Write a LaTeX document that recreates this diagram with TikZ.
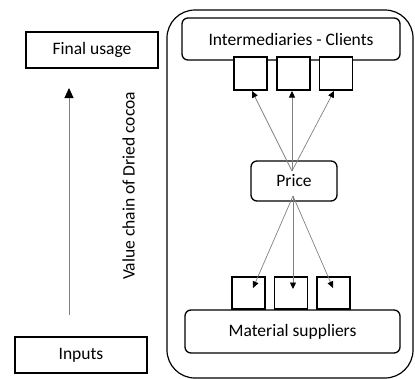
\documentclass[tikz,border=0pt]{standalone}
\usepackage{fontspec}
\setmainfont{Carlito}
\usetikzlibrary{arrows.meta}
\begin{document}
\begin{tikzpicture}[x=1bp,y=-1bp,
  lbl/.style={font=\fontsize{17.5bp}{20bp}\selectfont},
  sqbox/.style={draw=black,line width=1.3bp,fill=white,rectangle,inner sep=0pt,minimum width=33bp,minimum height=33bp},
  plainbox/.style={draw=black,line width=1.3bp,rectangle,inner sep=0pt,lbl},
  rbox/.style={draw=black,line width=1.3bp,rectangle,rounded corners=6bp,inner sep=0pt,lbl},
  link/.style={draw=gray,line width=0.7bp,-{Triangle[length=6.5bp,width=6bp,black]}},
  mainlink/.style={draw=gray,line width=0.9bp,-{Triangle[length=10bp,width=9bp,black]}}
]
\useasboundingbox (0,0) rectangle (415,379);
% outer container
\node[draw=black,line width=1.2bp,rectangle,rounded corners=28bp,inner sep=0pt,minimum width=246bp,minimum height=368bp] (outer) at (290,194) {};
% left side
\node[plainbox,minimum width=132bp,minimum height=36bp] (final) at (92,50) {Final usage};
\node[plainbox,minimum width=132bp,minimum height=36bp] (inputs) at (81,355) {Inputs};
\coordinate (arrs) at (69,315);
\coordinate (arre) at (69,88);
\draw[mainlink] (arrs) -- (arre);
\node[lbl,rotate=90] (vc) at (128.5,186) {Value chain of Dried cocoa};
% inner boxes
\node[rbox,minimum width=218bp,minimum height=42bp] (inter) at (291,39) {Intermediaries - Clients};
\node[rbox,minimum width=215bp,minimum height=43bp] (mat) at (292.5,331.5) {Material suppliers};
\node[rbox,minimum width=86bp,minimum height=40bp] (price) at (294,181) {Price};
% small squares
\node[sqbox] (t1) at (250.5,73.5) {};
\node[sqbox] (t2) at (293.5,73.5) {};
\node[sqbox] (t3) at (336,73.5) {};
\node[sqbox,minimum height=32bp] (b1) at (248.5,293) {};
\node[sqbox,minimum height=32bp] (b2) at (291,293) {};
\node[sqbox,minimum height=32bp] (b3) at (333.5,293) {};
% connectors
\coordinate (pt) at (292,171);
\coordinate (pb) at (293,196);
\coordinate (tt1) at (252,91);
\coordinate (tt2) at (292,91);
\coordinate (tt3) at (334,91);
\coordinate (bt1) at (253,288);
\coordinate (bt2) at (293,289);
\coordinate (bt3) at (333,288);
\draw[link] (pt) -- (tt1);
\draw[link] (pt) -- (tt2);
\draw[link] (pt) -- (tt3);
\draw[link] (pb) -- (bt1);
\draw[link] (pb) -- (bt2);
\draw[link] (pb) -- (bt3);
\end{tikzpicture}
\end{document}
